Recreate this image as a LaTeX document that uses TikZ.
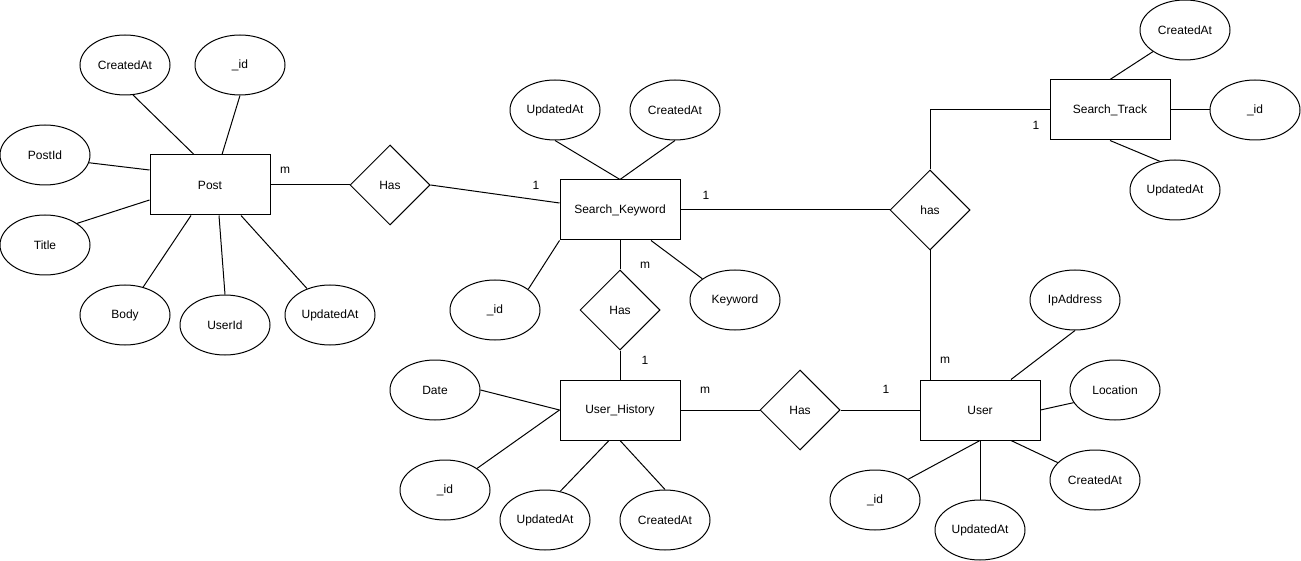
\documentclass[tikz,border=0pt]{standalone}
\usepackage{fontspec}
\setmainfont{Liberation Sans}
\usetikzlibrary{shapes.geometric}
\begin{document}
\begin{tikzpicture}[x=1pt,y=-1pt,line width=1pt,
  font=\fontsize{12}{14}\selectfont,
  ent/.style={draw,rectangle,minimum width=120pt,minimum height=60pt,inner sep=0pt},
  att/.style={draw,ellipse,minimum width=90pt,minimum height=60pt,inner sep=0pt},
  rel/.style={draw,diamond,minimum width=80pt,minimum height=80pt,inner sep=0pt,aspect=1},
  card/.style={inner sep=0pt}]
\useasboundingbox (0,0) rectangle (1301,561);
% Entities
\node[ent] (post) at (210,185) {Post};
\node[ent] (sk) at (620,210) {Search\_Keyword};
\node[ent] (uh) at (620,410) {User\_History};
\node[ent] (user) at (980,410) {User};
\node[ent] (st) at (1110,110) {Search\_Track};
% Relationships
\node[rel] (has1) at (390,185) {Has};
\node[rel] (has2) at (620,310) {Has};
\node[rel] (has3) at (800,410) {Has};
\node[rel] (has4) at (930,210) {has};
% Post attributes
\node[att] (pca) at (125,65) {CreatedAt};
\node[att] (pid) at (240,65) {\_id};
\node[att] (ppostid) at (45,155) {PostId};
\node[att] (ptitle) at (45,245) {Title};
\node[att] (pbody) at (125,315) {Body};
\node[att] (puserid) at (225,325) {UserId};
\node[att] (pupd) at (330,315) {UpdatedAt};
% Search_Keyword attributes
\node[att] (skupd) at (555,110) {UpdatedAt};
\node[att] (skca) at (675,110) {CreatedAt};
\node[att] (skid) at (495,310) {\_id};
\node[att] (skkw) at (735,300) {Keyword};
% User_History attributes
\node[att] (uhdate) at (435,390) {Date};
\node[att] (uhid) at (445,490) {\_id};
\node[att] (uhupd) at (545,520) {UpdatedAt};
\node[att] (uhca) at (665,520) {CreatedAt};
% User attributes
\node[att] (uip) at (1075,300) {IpAddress};
\node[att] (uloc) at (1115,390) {Location};
\node[att] (uca) at (1095,480) {CreatedAt};
\node[att] (uupd) at (980,530) {UpdatedAt};
\node[att] (uid) at (875,500) {\_id};
% Search_Track attributes
\node[att] (stca) at (1185,30) {CreatedAt};
\node[att] (stid) at (1255,110) {\_id};
\node[att] (stupd) at (1175,190) {UpdatedAt};
% Post connectors
\draw (pca.-75) -- ([xshift=-16pt]post.north);
\draw (pid.south) -- ([xshift=12pt]post.north);
\draw (ppostid.-10) -- ([yshift=15pt]post.west);
\draw (ptitle.34) -- ([yshift=-15pt]post.west);
\draw (pbody.57) -- ([xshift=-19pt]post.south);
\draw (puserid.north) -- ([xshift=9pt]post.south);
\draw (pupd.131) -- ([xshift=31pt]post.south);
% Search_Keyword connectors
\draw (skupd.south) -- (sk.north);
\draw (skca.south) -- (sk.north);
\draw (skid.32) -- (sk.south west);
\draw (skkw.147) -- ([xshift=31pt]sk.south);
% User_History connectors
\draw (uhdate.east) -- (uh.west);
\draw (uhid.34) -- (uh.west);
\draw (uhupd.62) -- ([xshift=-11pt]uh.south);
\draw (uhca.north) -- (uh.south);
% User connectors
\draw (uip.south) -- ([xshift=31pt]user.north);
\draw (uloc.197) -- (user.east);
\draw (uca.155) -- ([xshift=31pt]user.south);
\draw (uupd.north) -- (user.south);
\draw (uid.32) -- (user.south);
% Search_Track connectors
\draw (stca.214) -- (st.north);
\draw (st.east) -- (stid.west);
\draw (stupd.118) -- (st.south);
% Relationship connectors
\draw (post.east) -- (has1.west);
\draw (has1.east) -- ([yshift=7pt]sk.west);
\draw (sk.south) -- (has2.north);
\draw (has2.south) -- (uh.north);
\draw (uh.east) -- (has3.west);
\draw (has3.east) -- (user.west);
\draw (sk.east) -- (has4.west);
\draw (has4.south) -- ([xshift=-50pt]user.north);
\draw (has4.north) |- (st.west);
% Cardinalities
\node[card] (c1) at (285,170) {m};
\node[card] (c2) at (536,185) {1};
\node[card] (c3) at (645,265) {m};
\node[card] (c4) at (645,360) {1};
\node[card] (c5) at (705,390) {m};
\node[card] (c6) at (886,389) {1};
\node[card] (c7) at (706,195) {1};
\node[card] (c8) at (945,360) {m};
\node[card] (c9) at (1036,125) {1};
\end{tikzpicture}
\end{document}
